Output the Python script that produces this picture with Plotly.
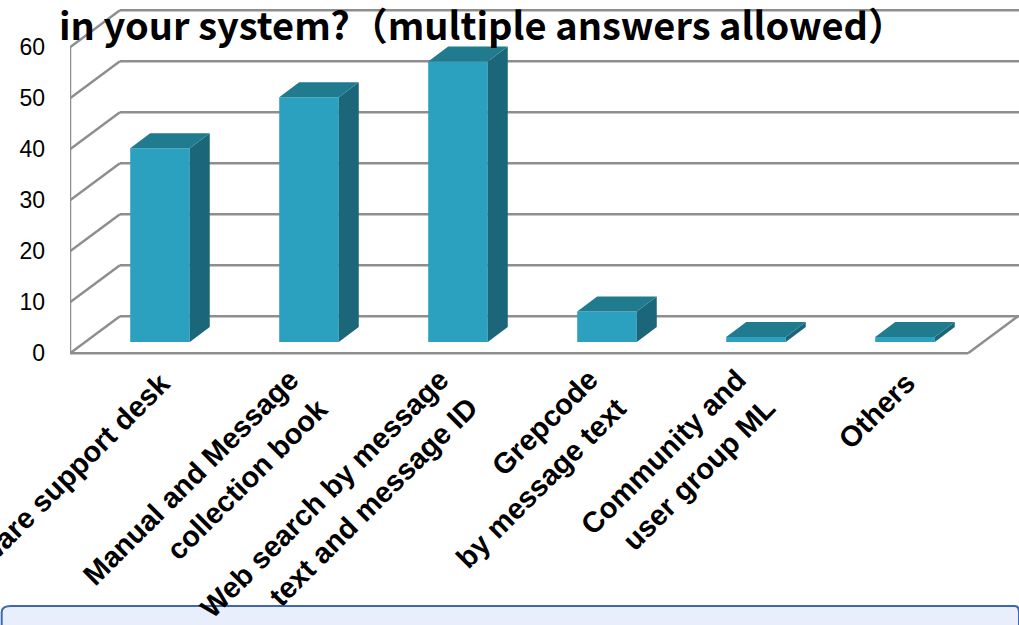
import plotly.graph_objects as go

# Survey answers
categories = [
    ["Software support desk"],
    ["Manual and Message", "collection book"],
    ["Web search by message", "text and message ID"],
    ["Grepcode", "by message text"],
    ["Community and", "user group ML"],
    ["Others"],
]
values = [38, 48, 55, 6, 1, 1]
y_ticks = [0, 10, 20, 30, 40, 50, 60]
title_text = "in your system?（multiple answers allowed）"

# Colours
FRONT_COL = "#2ba1bf"
TOP_COL = "#217b8f"
SIDE_COL = "#1c6679"
GRID_COL = "#8e8e8e"

# Pseudo-3D geometry (data units): bar plane sits between the front and back planes
FRONT = (-0.10, -2.2)     # offset of the front plane from the bar plane
BACK = (0.235, 5.07)      # offset of the back wall from the bar plane
DEPTH = (0.134, 2.94)     # thickness of each bar
X_LEFT, X_RIGHT = -0.504, 5.523
BAR_W = 0.4

x = list(range(len(values)))

fig = go.Figure()
fig.add_trace(go.Bar(x=x, y=values, width=BAR_W,
                     marker=dict(color=FRONT_COL, line=dict(width=0)),
                     hoverinfo="y"))

shapes = []
line_style = dict(color=GRID_COL, width=2.5)

# back wall gridlines and left wall diagonals
for v in y_ticks:
    shapes.append(dict(type="line", xref="x", yref="y", layer="below",
                       x0=X_LEFT + BACK[0], y0=v + BACK[1],
                       x1=X_RIGHT + BACK[0] + 0.3, y1=v + BACK[1], line=line_style))
    shapes.append(dict(type="line", xref="x", yref="y", layer="below",
                       x0=X_LEFT + FRONT[0], y0=v + FRONT[1],
                       x1=X_LEFT + BACK[0], y1=v + BACK[1], line=line_style))
# front vertical axis
shapes.append(dict(type="line", xref="x", yref="y", layer="below",
                   x0=X_LEFT + FRONT[0], y0=FRONT[1],
                   x1=X_LEFT + FRONT[0], y1=y_ticks[-1] + FRONT[1], line=line_style))
# floor front and right edges
shapes.append(dict(type="line", xref="x", yref="y", layer="below",
                   x0=X_LEFT + FRONT[0], y0=FRONT[1],
                   x1=X_RIGHT + FRONT[0], y1=FRONT[1], line=line_style))
shapes.append(dict(type="line", xref="x", yref="y", layer="below",
                   x0=X_RIGHT + FRONT[0], y0=FRONT[1],
                   x1=X_RIGHT + BACK[0], y1=BACK[1], line=line_style))


def poly(pts):
    return "M " + " L ".join(f"{a},{b}" for a, b in pts) + " Z"


# top and side faces of each bar
for xi, v in zip(x, values):
    l, r = xi - BAR_W / 2, xi + BAR_W / 2
    top = [(l, v), (r, v), (r + DEPTH[0], v + DEPTH[1]), (l + DEPTH[0], v + DEPTH[1])]
    side = [(r, 0), (r, v), (r + DEPTH[0], v + DEPTH[1]), (r + DEPTH[0], DEPTH[1])]
    shapes.append(dict(type="path", xref="x", yref="y", layer="above",
                       path=poly(side), fillcolor=SIDE_COL, line=dict(width=0)))
    shapes.append(dict(type="path", xref="x", yref="y", layer="above",
                       path=poly(top), fillcolor=TOP_COL, line=dict(width=0)))

# bottom panel
shapes.append(dict(type="path", xref="paper", yref="paper", layer="above",
                   path="M -0.072,-0.75 L -0.072,-0.700 Q -0.072,-0.683 -0.062,-0.683 "
                        "L 0.995,-0.683 Q 1.0,-0.683 1.0,-0.70 L 1.0,-0.75 Z",
                   fillcolor="#e8eefb", line=dict(color="#3f67ae", width=2)))

annotations = []
# category labels, one annotation per line, rotated 45 degrees
PAD = 13.5
for xi, lines in zip(x, categories):
    n = len(lines)
    for k, txt in enumerate(lines):
        ex = (k - (n - 1) / 2) * 29 + (5 if n == 1 else 0)
        ey = 21 + 28 * k if n == 2 else 24
        annotations.append(dict(
            x=xi, y=FRONT[1], xref="x", yref="y", text=txt, showarrow=False,
            textangle=-45, xanchor="right", yanchor="top",
            xshift=ex + PAD, yshift=-(ey - PAD),
            font=dict(family="Liberation Sans, Arial", size=29, color="black", weight="bold"),
        ))

annotations.append(dict(
    x=-0.0137, y=0.935, xref="paper", yref="paper", text=title_text, showarrow=False,
    xanchor="left", yanchor="middle",
    font=dict(family="Noto Sans CJK JP", size=38, color="black", weight="bold"),
))

fig.update_layout(
    width=1019, height=625,
    margin=dict(l=70, r=0, t=0, b=265),
    paper_bgcolor="white", plot_bgcolor="white",
    showlegend=False,
    shapes=shapes,
    annotations=annotations,
    xaxis=dict(range=[-0.604, 5.765], showticklabels=False, showgrid=False,
               zeroline=False, showline=False, fixedrange=True),
    yaxis=dict(range=[-3.53, 67.06], tickvals=[v + FRONT[1] for v in y_ticks],
               ticktext=[str(v) for v in y_ticks], showgrid=False, zeroline=False,
               showline=False, ticks="", ticklabelstandoff=24,
               tickfont=dict(family="Liberation Sans, Arial", size=23, color="black"),
               fixedrange=True),
)

fig.write_html("out.html")
